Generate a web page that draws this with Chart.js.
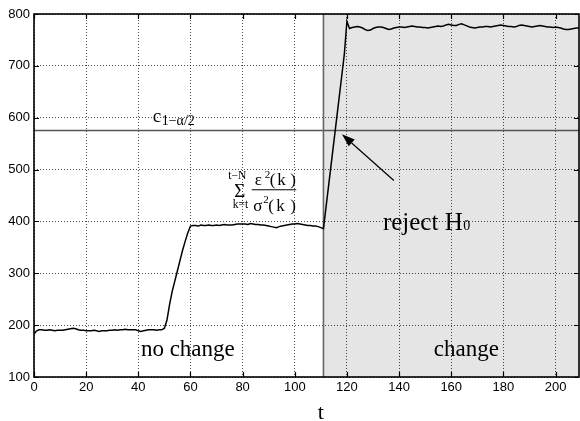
<!DOCTYPE html>
<html><head><meta charset="utf-8">
<script src="https://cdn.jsdelivr.net/npm/chart.js@4/dist/chart.umd.min.js"></script>
<style>html,body{margin:0;padding:0;background:#fff}#wrap{width:580px;height:421px}</style>
</head><body><div id="wrap"><canvas id="c" width="580" height="421"></canvas></div>
<script>
// statistic value per sample t = 0 .. 209
const statValues = [
  183,189,191,191,190,190,191,190,189,190,
  190,190,191,192,193,194,193,191,190,190,
  189,189,189,190,189,188,189,189,189,190,
  190,191,190,191,191,192,191,191,191,191,
  189,188,189,190,191,191,191,190,191,191,
  194,210,240,265,285,305,325,345,362,378,
  391,392,392,391,393,392,392,393,392,392,
  393,392,393,394,393,393,393,394,395,395,
  395,395,394,396,395,394,394,393,393,392,
  391,390,389,388,390,391,392,393,394,395,
  395,396,395,394,393,392,392,391,391,390,
  388,386,428,470,512,554,596,638,680,722,
  786,772,774,775,776,775,773,770,768,769,
  772,774,775,775,774,772,770,771,773,774,
  775,775,774,775,776,777,776,775,775,774,
  774,773,774,775,776,777,776,777,779,780,
  779,778,778,780,781,779,777,775,774,773,
  774,775,775,776,776,775,776,777,778,779,
  778,777,776,776,775,776,778,779,778,777,
  776,775,776,777,778,777,776,775,775,774,
  775,774,773,771,770,770,771,772,773,773
];
const xTicksStep = 20;
const yTicksStep = 100;
const xMax = 209;
const yMin = 100, yMax = 800;
const criticalLevel = 577;   // c_{1-alpha/2}
const changePoint = 111;     // start of the "change" region

const points = statValues.map((v, i) => ({x: i, y: v}));

const SERIF = '"Liberation Serif", "Times New Roman", serif';
const SANS = '"Liberation Sans", Arial, sans-serif';

function txt(ctx, s, x, y, size, align) {
  ctx.font = size + 'px ' + SERIF;
  ctx.textAlign = align || 'left';
  ctx.textBaseline = 'alphabetic';
  ctx.fillStyle = '#000';
  ctx.fillText(s, x, y);
}

const decor = {
  id: 'decor',
  beforeDraw(chart) {
    const {ctx, chartArea: ca, scales: {x}} = chart;
    const xs = x.getPixelForValue(changePoint);
    ctx.save();
    ctx.fillStyle = 'rgb(229,229,229)';
    ctx.fillRect(xs, ca.top, ca.right - xs, ca.bottom - ca.top);
    ctx.restore();
  },
  beforeDatasetsDraw(chart) {
    const {ctx, chartArea: ca, scales: {x, y}} = chart;
    ctx.save();
    const yc = Math.round(y.getPixelForValue(criticalLevel)) + 0.5;
    ctx.strokeStyle = '#555';
    ctx.lineWidth = 1.3;
    ctx.beginPath(); ctx.moveTo(ca.left, yc); ctx.lineTo(ca.right, yc); ctx.stroke();
    const xs = x.getPixelForValue(changePoint);
    ctx.strokeStyle = '#666';
    ctx.lineWidth = 1.6;
    ctx.beginPath(); ctx.moveTo(xs, ca.top); ctx.lineTo(xs, ca.bottom); ctx.stroke();
    ctx.restore();
  },
  afterDatasetsDraw(chart) {
    const {ctx, chartArea: ca, scales: {x, y}} = chart;
    ctx.save();
    // frame
    ctx.strokeStyle = '#000';
    ctx.lineWidth = 1.6;
    ctx.strokeRect(ca.left, ca.top, ca.right - ca.left, ca.bottom - ca.top);
    // inward tick marks
    ctx.lineWidth = 1.2;
    ctx.beginPath();
    x.ticks.forEach(t => {
      const px = Math.round(x.getPixelForValue(t.value)) + 0.5;
      ctx.moveTo(px, ca.bottom); ctx.lineTo(px, ca.bottom - 5);
      ctx.moveTo(px, ca.top); ctx.lineTo(px, ca.top + 5);
    });
    y.ticks.forEach(t => {
      const py = Math.round(y.getPixelForValue(t.value)) + 0.5;
      ctx.moveTo(ca.left, py); ctx.lineTo(ca.left + 5, py);
      ctx.moveTo(ca.right, py); ctx.lineTo(ca.right - 5, py);
    });
    ctx.stroke();

    // c_{1-alpha/2}
    const cx = x.getPixelForValue(45.5);
    const cy = y.getPixelForValue(criticalLevel) - 8;
    txt(ctx, 'c', cx, cy, 19);
    txt(ctx, '1\u2212\u03b1/2', cx + 9, cy + 3, 14);

    // formula
    const ax = x.getPixelForValue(83.5), ay = y.getPixelForValue(462);
    txt(ctx, 't\u2212N', ax - 23.5, ay - 10, 11.5);
    txt(ctx, '\u03a3', ax - 17.5, ay + 7.5, 19);
    txt(ctx, 'k=t', ax - 19, ay + 19, 11.5);
    ctx.strokeStyle = '#000'; ctx.lineWidth = 1;
    ctx.beginPath(); ctx.moveTo(ax, ay + 0.5); ctx.lineTo(ax + 44.5, ay + 0.5); ctx.stroke();
    txt(ctx, '\u03b5', ax + 3, ay - 4.5, 17);
    txt(ctx, '2', ax + 13, ay - 11.5, 11);
    txt(ctx, '(', ax + 18, ay - 4.5, 17);
    txt(ctx, 'k', ax + 25.5, ay - 4.5, 17);
    txt(ctx, ')', ax + 38.5, ay - 4.5, 17);
    txt(ctx, '\u03c3', ax + 1.5, ay + 21.5, 17);
    txt(ctx, '2', ax + 11.5, ay + 13.5, 11);
    txt(ctx, '(', ax + 16.5, ay + 21.5, 17);
    txt(ctx, 'k', ax + 24.5, ay + 21.5, 17);
    txt(ctx, ')', ax + 38.5, ay + 21.5, 17);

    // reject H0 + arrow
    const rx = x.getPixelForValue(133.8), ry = y.getPixelForValue(383);
    txt(ctx, 'reject H', rx, ry, 25);
    ctx.font = '25px ' + SERIF;
    const w = ctx.measureText('reject H').width;
    txt(ctx, '0', rx + w + 0.5, ry, 14);

    const tail = {x: x.getPixelForValue(138), y: y.getPixelForValue(479)};
    const tip = {x: x.getPixelForValue(118.1), y: y.getPixelForValue(568)};
    const ang = Math.atan2(tip.y - tail.y, tip.x - tail.x);
    const L = 13, H = 4.5;
    const bx = tip.x - L * Math.cos(ang), by = tip.y - L * Math.sin(ang);
    ctx.strokeStyle = '#000'; ctx.lineWidth = 1.2;
    ctx.beginPath(); ctx.moveTo(tail.x, tail.y); ctx.lineTo(bx, by); ctx.stroke();
    ctx.fillStyle = '#000';
    ctx.beginPath();
    ctx.moveTo(tip.x, tip.y);
    ctx.lineTo(bx + H * Math.sin(ang), by - H * Math.cos(ang));
    ctx.lineTo(bx - H * Math.sin(ang), by + H * Math.cos(ang));
    ctx.closePath(); ctx.fill();

    // region labels
    const ly = y.getPixelForValue(141);
    txt(ctx, 'no change', x.getPixelForValue(59), ly, 23, 'center');
    txt(ctx, 'change', x.getPixelForValue(165.8), ly, 23, 'center');

    // axis title
    txt(ctx, 't', x.getPixelForValue(110), ca.bottom + 42, 22, 'center');
    ctx.restore();
  }
};

new Chart(document.getElementById('c'), {
  type: 'line',
  data: {
    datasets: [{
      data: points,
      borderColor: '#000',
      borderWidth: 1.5,
      pointRadius: 0,
      tension: 0,
      fill: false
    }]
  },
  options: {
    responsive: false,
    animation: false,
    devicePixelRatio: 1,
    layout: {padding: {top: 14, right: 1, left: 0, bottom: 0}},
    plugins: {legend: {display: false}, tooltip: {enabled: false}},
    scales: {
      x: {
        type: 'linear', min: 0, max: xMax,
        afterFit(s) { s.height = 44; },
        ticks: {stepSize: xTicksStep, includeBounds: false, autoSkip: false, maxRotation: 0,
                color: '#000', font: {family: SANS, size: 13}, padding: 3},
        grid: {color: 'rgba(0,0,0,0.7)', lineWidth: 1, drawTicks: false, borderDash: [1, 2]},
        border: {display: false, dash: [1, 2]}
      },
      y: {
        min: yMin, max: yMax,
        afterFit(s) { s.width = 34; },
        ticks: {stepSize: yTicksStep, autoSkip: false, color: '#000',
                font: {family: SANS, size: 13}, padding: 4},
        grid: {color: 'rgba(0,0,0,0.7)', lineWidth: 1, drawTicks: false, borderDash: [1, 2]},
        border: {display: false, dash: [1, 2]}
      }
    }
  },
  plugins: [decor]
});
</script>
</body></html>
